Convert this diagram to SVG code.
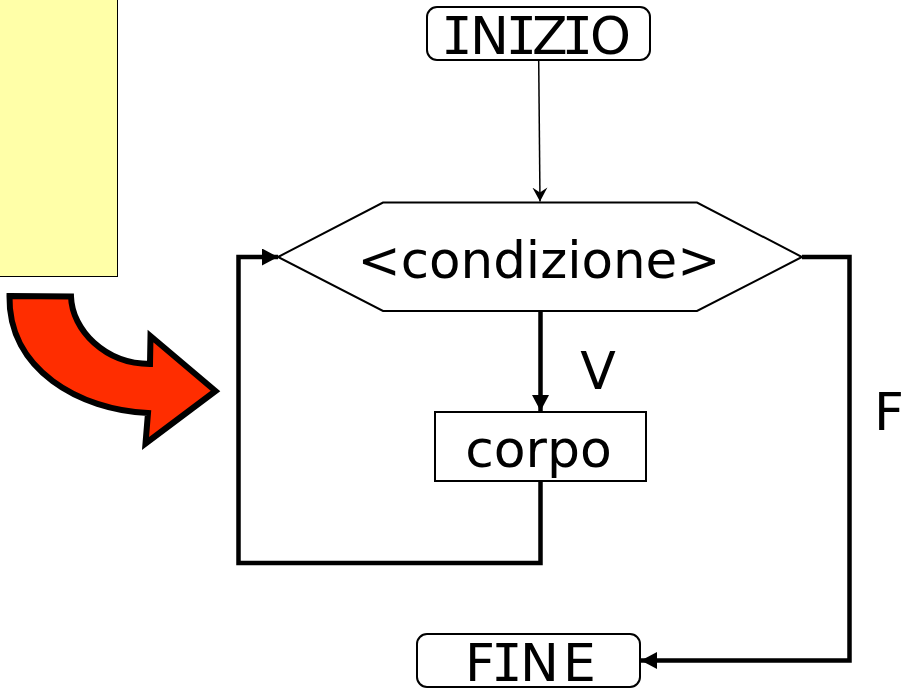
<svg xmlns="http://www.w3.org/2000/svg" width="910" height="688" viewBox="0 0 910 688">
<defs>
<marker id="a" markerUnits="userSpaceOnUse" markerWidth="17" markerHeight="18" refX="16" refY="8.500" orient="auto"><path d="M0 0L16 8.500L0 17Z" fill="#000"/></marker>
<marker id="b" markerUnits="userSpaceOnUse" markerWidth="16" markerHeight="16" refX="14" refY="8" orient="auto"><path d="M0 0.500L14 8L0 15.500L5 8Z" fill="#000"/></marker>
</defs>
<style>
text{font-family:"DejaVu Sans",Verdana,sans-serif;font-size:52px;text-anchor:middle;fill:#000}
.s{text-anchor:start}
.m{font-family:"DejaVu Sans Mono",monospace}
.n{fill:#fff;stroke:#000;stroke-width:2}
.c{fill:none;stroke:#000;stroke-width:4.500}
</style>
<rect x="-2" y="-2" width="119.500" height="278.500" fill="#ffffa8" stroke="#000" stroke-width="1"/>
<path d="M9.500 296L71 296.500C72 330 105 364 150 364L150.500 336L215.500 391L145.500 443.500L148 413C80 410 8 370 9.500 296Z" fill="#ff2d00" stroke="#000" stroke-width="6" stroke-miterlimit="10"/>
<g id="connectors">
<path d="M538.700 60L540 201.500" fill="none" stroke="#000" stroke-width="1.500" marker-end="url(#b)"/>
<path class="c" d="M540.500 311L540.500 411" marker-end="url(#a)"/>
<path class="c" d="M540.500 481L540.500 563L238.500 563L238.500 257L278 257" marker-end="url(#a)"/>
<path class="c" d="M802 257L849.500 257L849.500 660.500L641 660.500" marker-end="url(#a)"/>
</g>
<g id="inizio"><rect class="n" x="427" y="7" width="223" height="53" rx="10"/><text class="s" y="54"><tspan class="m" x="441.300">I</tspan><tspan x="470">N</tspan><tspan class="m" x="505.800">I</tspan><tspan x="532">Z</tspan><tspan class="m" x="561.800">I</tspan><tspan x="590">O</tspan></text></g>
<g id="condizione"><path class="n" d="M278 257L383 202.500L697 202.500L802 257L697 311L383 311Z"/><text x="539" y="277.500" style="font-size:51.500px">&lt;condizione&gt;</text></g>
<g id="corpo"><rect class="n" x="435" y="412" width="211" height="69"/><text x="538.500" y="467">corpo</text></g>
<g id="fine"><rect class="n" x="417" y="634" width="223" height="53" rx="10"/><text class="s" y="681"><tspan x="465">F</tspan><tspan class="m" x="491.300">I</tspan><tspan x="520">N</tspan><tspan x="563">E</tspan></text></g>
<text x="598" y="389">V</text>
<text x="889" y="430">F</text>
</svg>
